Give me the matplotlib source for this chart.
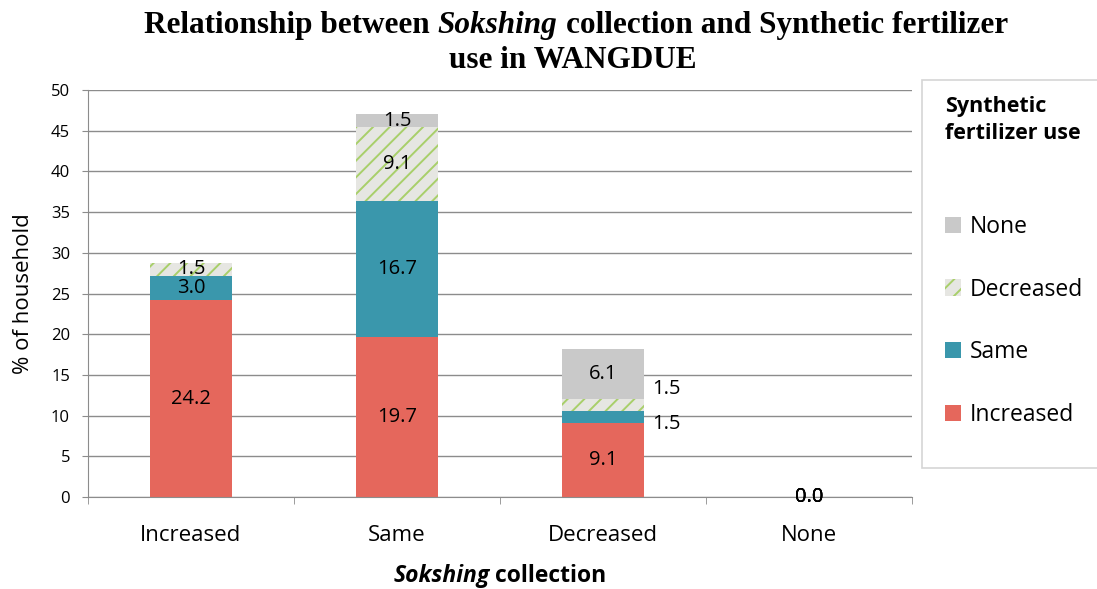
import matplotlib
matplotlib.use('Agg')
import numpy as np
import matplotlib.pyplot as plt
from matplotlib.patches import Patch, Rectangle

plt.rcParams['font.family'] = ['Open Sans', 'DejaVu Sans']
plt.rcParams['hatch.linewidth'] = 1.4

# sokshing collection categories (x axis)
collection = ['Increased', 'Same', 'Decreased', 'None']

# % of households per synthetic fertilizer use, stacked bottom to top
series_names = ['Increased', 'Same', 'Decreased', 'None']
fert_increased = [24.2, 19.7, 9.1, 0.0]
fert_same = [3.0, 16.7, 1.5, 0.0]
fert_decreased = [1.5, 9.1, 1.5, 0.0]
fert_none = [0.0, 1.5, 6.1, 0.0]
series_values = [fert_increased, fert_same, fert_decreased, fert_none]

styles = {
    'Increased': dict(color='#E5675C', linewidth=0),
    'Same': dict(color='#3A97AC', linewidth=0),
    'Decreased': dict(facecolor='#E6E6E2', edgecolor='#A8CF6A',
                      hatch='//', linewidth=0),
    'None': dict(color='#C9C9C9', linewidth=0),
}

# thin segments whose labels sit beside the bar: (series, category) -> (dx, dy)
side_labels = {
    ('Decreased', 'Decreased'): (0.31, 1.95),
    ('Same', 'Decreased'): (0.31, -0.85),
}

W, H = 1097, 589
fig = plt.figure(figsize=(W / 100, H / 100), dpi=100)
ax = fig.add_axes([88 / W, 1 - 497 / H, 824 / W, 407 / H])

x = np.arange(len(collection))
totals = np.sum(series_values, axis=0)
bottom = np.zeros(len(collection))
handles = {}
for name, vals in zip(series_names, series_values):
    vals = np.array(vals)
    ax.bar(x, vals, 0.4, bottom=bottom, zorder=2, **styles[name])
    handles[name] = Patch(label=name, **styles[name])
    for i, v in enumerate(vals):
        if v <= 0 and totals[i] > 0:
            continue
        cy = bottom[i] + v / 2
        key = (name, collection[i])
        if key in side_labels:
            dx, dy = side_labels[key]
            ax.text(x[i] + dx, cy + dy, f'{v:.1f}', ha='center', va='center',
                    fontsize=14.5, zorder=3)
        else:
            ax.text(x[i], cy, f'{v:.1f}', ha='center', va='center',
                    fontsize=14.5, zorder=3)
    bottom += vals

ax.set_xlim(-0.5, 3.5)
ax.set_ylim(0, 50)
ax.set_yticks(np.arange(0, 51, 5))
ax.yaxis.grid(True, color='#8C8C8C', linewidth=1)
ax.set_axisbelow(True)
for s in ['top', 'right']:
    ax.spines[s].set_visible(False)
for s in ['left', 'bottom']:
    ax.spines[s].set_color('#8C8C8C')
ax.set_xticks(x)
ax.set_xticklabels(collection, fontsize=16)
ax.set_xticks(np.arange(-0.5, 4, 1), minor=True)
ax.tick_params(axis='x', which='major', length=0, pad=20)
ax.tick_params(axis='x', which='minor', length=5, color='#8C8C8C')
ax.tick_params(axis='y', length=4, color='#8C8C8C', labelsize=12, pad=9)
ax.set_ylabel('% of household', fontsize=16)
ax.yaxis.set_label_coords(-0.066, 0.5)

renderer = fig.canvas.get_renderer()


def mixed_line(xc, y, parts, size, family):
    # place bold/italic runs side by side, centred on xc (figure fraction)
    probe = fig.text(0, 0, 'x x', fontsize=size, family=family, fontweight='bold')
    probe2 = fig.text(0, 0, 'xx', fontsize=size, family=family, fontweight='bold')
    gap = (probe.get_window_extent(renderer).width
           - probe2.get_window_extent(renderer).width)
    probe.remove()
    probe2.remove()
    texts = [fig.text(0, y, s, fontsize=size, family=family, fontweight='bold',
                      fontstyle=st, va='center', ha='left') for s, st in parts]
    widths = [t.get_window_extent(renderer).width for t in texts]
    total = sum(widths) + gap * (len(texts) - 1)
    pos = xc * fig.bbox.width - total / 2
    for t, w in zip(texts, widths):
        t.set_x(pos / fig.bbox.width)
        pos += w + gap


serif = ['Liberation Serif', 'DejaVu Serif']
mixed_line(576 / W, 1 - 26 / H,
           [('Relationship between', 'normal'), ('Sokshing', 'italic'),
            ('collection and Synthetic fertilizer', 'normal')], 22.5, serif)
fig.text(573 / W, 1 - 60 / H, 'use in WANGDUE', ha='center', va='center',
         fontsize=22.5, family=serif, fontweight='bold')

mixed_line(500 / W, 1 - 576 / H,
           [('Sokshing', 'italic'), ('collection', 'normal')], 16.5,
           ['Open Sans', 'DejaVu Sans'])

# legend box
fig.patches.append(Rectangle((922 / W, 1 - 468 / H), 0.2, 388 / H,
                             transform=fig.transFigure, facecolor='white',
                             edgecolor='#D5D5D5', linewidth=1.2, zorder=-1))
fig.text(945 / W, 1 - 96 / H, 'Synthetic\nfertilizer use', ha='left', va='top',
         fontsize=15.5, fontweight='bold', linespacing=1.4)
fig.legend(handles=[handles[n] for n in reversed(series_names)],
           loc='center left', bbox_to_anchor=(945 / W, 1 - 321 / H),
           frameon=False, fontsize=16.5, borderaxespad=0,
           labelspacing=1.7, handlelength=0.7, handleheight=0.7,
           handletextpad=0.4, borderpad=0)

fig.savefig('out.png', dpi=100)
